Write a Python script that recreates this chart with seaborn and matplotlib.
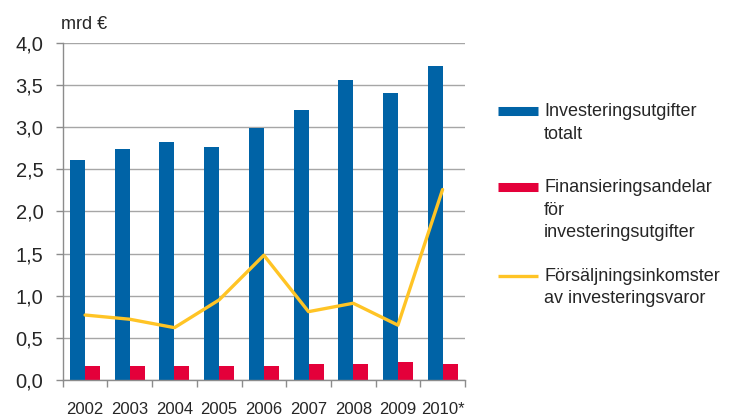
import seaborn as sns
import pandas as pd
import matplotlib.pyplot as plt
from matplotlib.lines import Line2D
from matplotlib.ticker import FixedLocator, FuncFormatter

years = ['2002', '2003', '2004', '2005', '2006', '2007', '2008', '2009', '2010*']
invest_total = [2.61, 2.74, 2.82, 2.76, 2.99, 3.20, 3.56, 3.41, 3.73]
finans_andel = [0.16, 0.17, 0.17, 0.17, 0.17, 0.19, 0.19, 0.21, 0.19]
salj_inkomst = [0.77, 0.72, 0.62, 0.95, 1.48, 0.81, 0.91, 0.65, 2.26]

lab_blue = 'Investeringsutgifter\ntotalt'
lab_red = 'Finansieringsandelar\nför\ninvesteringsutgifter'
lab_yel = 'Försäljningsinkomster\nav investeringsvaror'

c_blue, c_red, c_yel = '#0063a6', '#e4003a', '#ffc425'

sns.set_theme(style='white')
plt.rcParams['font.family'] = ['Liberation Sans', 'DejaVu Sans']

def main():
    bars = pd.DataFrame({
        'year': years * 2,
        'value': invest_total + finans_andel,
        'serie': [lab_blue] * len(years) + [lab_red] * len(years),
    })
    line = pd.DataFrame({'year': years, 'value': salj_inkomst})

    fig = plt.figure(figsize=(7.56, 4.17), dpi=100)
    ax = fig.add_axes([0.083, 0.089, 0.532, 0.808])

    ax.yaxis.grid(True, color='#a6a6a6', linewidth=1)
    ax.set_axisbelow(True)
    sns.barplot(data=bars, x='year', y='value', hue='serie', ax=ax,
                palette=[c_blue, c_red], width=0.67, saturation=1,
                edgecolor='none', legend=False)
    sns.lineplot(data=line, x='year', y='value', ax=ax, color=c_yel,
                 linewidth=2.4, legend=False)

    ax.set_xlim(-0.5, 8.5)
    ax.set_ylim(0, 4.0)
    ax.set_yticks([i * 0.5 for i in range(9)])
    ax.yaxis.set_major_formatter(FuncFormatter(lambda v, p: f'{v:.1f}'.replace('.', ',')))
    ax.xaxis.set_minor_locator(FixedLocator([i - 0.5 for i in range(10)]))
    ax.tick_params(axis='x', which='major', length=0, pad=16, labelsize=12)
    ax.tick_params(axis='x', which='minor', length=5, color='#8c8c8c', width=1, bottom=True)
    ax.tick_params(axis='y', length=5, color='#8c8c8c', width=1, left=True, labelsize=14.5, pad=9)
    ax.set_xlabel('')
    ax.set_ylabel('')
    for s in ['top', 'right']:
        ax.spines[s].set_visible(False)
    for s in ['left', 'bottom']:
        ax.spines[s].set_color('#8c8c8c')
        ax.spines[s].set_linewidth(1)

    ax.text(-0.005, 1.03, 'mrd €', transform=ax.transAxes, fontsize=13, va='bottom', ha='left')

    # one legend per entry so the handle sits on the first line of each label
    entries = [
        (Line2D([], [], color=c_blue, lw=6.5, solid_capstyle='butt'), lab_blue, 0.752),
        (Line2D([], [], color=c_red, lw=6.5, solid_capstyle='butt'), lab_red, 0.570),
        (Line2D([], [], color=c_yel, lw=2.4, solid_capstyle='butt'), lab_yel, 0.357),
    ]
    for h, lab, ytop in entries:
        leg = fig.legend([h], [lab], loc='upper left', bbox_to_anchor=(0.659, ytop),
                         frameon=False, fontsize=13, handlelength=2.2, handleheight=1.1,
                         handletextpad=0.35, borderpad=0, borderaxespad=0)
        for t in leg.get_texts():
            t.set_linespacing(1.4)
        for col in leg._legend_handle_box.get_children():
            for item in col.get_children():
                item.align = 'top'

    fig.savefig('out.png', dpi=100)

main()
